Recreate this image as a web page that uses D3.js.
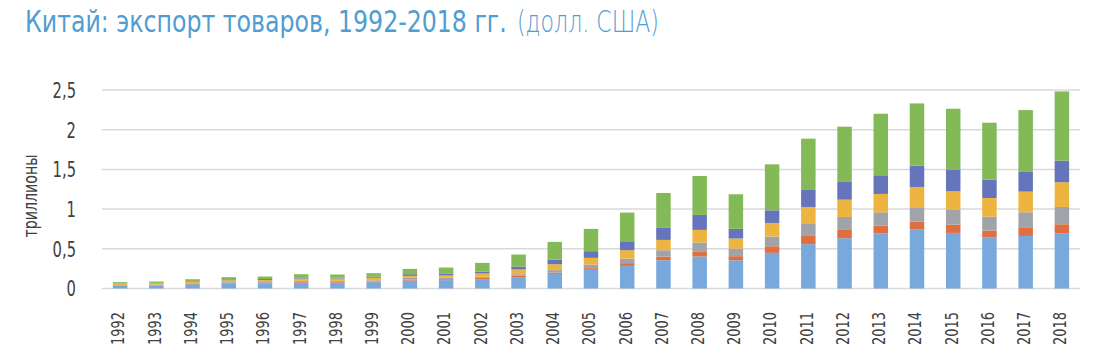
<!DOCTYPE html>
<html>
<head>
<meta charset="utf-8">
<script src="https://cdn.jsdelivr.net/npm/d3@7"></script>
<style>
  html, body { margin: 0; padding: 0; background: #fff; }
  svg { display: block; }
  .nar { font-family: "Liberation Sans Narrow", "DejaVu Sans Condensed", "Roboto", sans-serif; }
  .light { font-family: "DejaVu Sans", "Roboto", sans-serif; font-weight: 200; }
</style>
</head>
<body>
<svg id="chart" width="1100" height="357"></svg>
<script>
const years = ["1992","1993","1994","1995","1996","1997","1998","1999","2000","2001","2002","2003","2004","2005","2006","2007","2008","2009","2010","2011","2012","2013","2014","2015","2016","2017","2018"];

const seriesNames = ["s1", "s2", "s3", "s4", "s5", "s6"];
const s1 = [0.035,0.038,0.054,0.063,0.063,0.075,0.075,0.080,0.100,0.105,0.117,0.143,0.184,0.235,0.285,0.356,0.403,0.356,0.449,0.558,0.633,0.696,0.742,0.700,0.642,0.662,0.692];
const s2 = [0.005,0.005,0.006,0.007,0.007,0.008,0.008,0.009,0.013,0.012,0.017,0.017,0.017,0.021,0.034,0.047,0.058,0.051,0.083,0.104,0.105,0.096,0.101,0.105,0.088,0.101,0.117];
const s3 = [0.005,0.006,0.008,0.010,0.011,0.013,0.013,0.014,0.021,0.020,0.013,0.020,0.030,0.046,0.058,0.079,0.118,0.096,0.122,0.151,0.163,0.168,0.180,0.185,0.176,0.197,0.218];
const s4 = [0.015,0.016,0.020,0.024,0.025,0.029,0.030,0.032,0.025,0.028,0.042,0.059,0.075,0.084,0.105,0.130,0.159,0.126,0.172,0.214,0.218,0.231,0.256,0.234,0.234,0.260,0.311];
const s5 = [0.005,0.006,0.007,0.012,0.013,0.015,0.012,0.014,0.021,0.020,0.025,0.038,0.059,0.084,0.113,0.151,0.189,0.122,0.159,0.214,0.223,0.235,0.268,0.269,0.231,0.248,0.272];
const s6 = [0.015,0.017,0.022,0.027,0.032,0.040,0.038,0.044,0.067,0.079,0.109,0.151,0.222,0.281,0.361,0.440,0.490,0.436,0.579,0.646,0.696,0.775,0.784,0.771,0.717,0.779,0.872];

const colors = ["#78a8dc", "#df6e40", "#a0a3a8", "#edb43f", "#6674bb", "#84b957"];
const yTicks = [0, 0.5, 1, 1.5, 2, 2.5];

const titleMain = "Китай: экспорт товаров, 1992-2018 гг.";
const titleSub = "(долл. США)";
const yTitle = "триллионы";

const seriesValues = [s1, s2, s3, s4, s5, s6];
const table = years.map((yr, i) => {
  const row = { year: yr };
  seriesNames.forEach((n, k) => row[n] = seriesValues[k][i]);
  return row;
});

function fitLen(sel, target) {
  sel.each(function () {
    this.setAttribute("textLength", target);
    this.setAttribute("lengthAdjust", "spacingAndGlyphs");
  });
}
function squeeze(sel, factor) {
  sel.each(function () {
    const len = this.getComputedTextLength();
    this.setAttribute("textLength", len * factor);
    this.setAttribute("lengthAdjust", "spacingAndGlyphs");
  });
}
// place a text at (x0,y0) scaled horizontally to a target width
function scaledText(parent, cls, x0, y0, size, fill, str, target) {
  const g = parent.append("g");
  const t = g.append("text").attr("class", cls).attr("font-size", size).attr("fill", fill).text(str);
  const len = t.node().getComputedTextLength();
  g.attr("transform", `translate(${x0},${y0}) scale(${target / len},1)`);
  return t;
}

const svg = d3.select("#chart");

const x = d3.scaleBand().domain(years).range([102, 1080]).paddingInner(0.6).paddingOuter(0.3);
const y = d3.scaleLinear().domain([0, 2.5]).range([288.5, 90]);

// gridlines
svg.append("g").selectAll("line").data(yTicks).join("line")
  .attr("x1", 102).attr("x2", 1080)
  .attr("y1", d => y(d)).attr("y2", d => y(d))
  .attr("stroke", "#d9d9d9").attr("stroke-width", 1.5);

// bars
const stacked = d3.stack().keys(seriesNames)(table);
svg.append("g").selectAll("g").data(stacked).join("g")
  .attr("fill", (d, i) => colors[i])
  .selectAll("rect").data(d => d).join("rect")
  .attr("x", d => x(d.data.year))
  .attr("width", x.bandwidth())
  .attr("y", d => y(d[1]))
  .attr("height", d => y(d[0]) - y(d[1]));

// y axis
const yAxis = d3.axisLeft(y).tickValues(yTicks).tickSize(0).tickPadding(0)
  .tickFormat(d => String(d).replace(".", ","));
const ya = svg.append("g").attr("transform", "translate(76,0)").call(yAxis);
ya.select(".domain").remove();
ya.selectAll("text").attr("class", "nar").attr("font-size", 21).attr("fill", "#404040").attr("dy", "0.35em");
squeeze(ya.selectAll("text"), 0.78);

// x axis
const xAxis = d3.axisBottom(x).tickSize(0).tickPadding(0);
const xa = svg.append("g").attr("transform", "translate(-2,312)").call(xAxis);
xa.select(".domain").remove();
xa.selectAll("text").attr("class", "nar").attr("font-size", 18).attr("fill", "#404040")
  .attr("transform", "rotate(-90)")
  .attr("text-anchor", "end")
  .attr("x", 0).attr("y", 0).attr("dx", 0).attr("dy", "0.35em");
fitLen(xa.selectAll("text"), 33);

// y title
const yt = svg.append("text").attr("class", "nar")
  .attr("transform", "translate(30,196) rotate(-90)")
  .attr("text-anchor", "middle").attr("dy", "0.35em")
  .attr("font-size", 20).attr("fill", "#404040")
  .text(yTitle);
fitLen(yt, 83);

// title
scaledText(svg, "nar", 25, 32, 30, "#4f9dd2", titleMain, 482);
scaledText(svg, "light", 517, 32, 30, "#4f9dd2", titleSub, 142);
</script>
</body>
</html>
